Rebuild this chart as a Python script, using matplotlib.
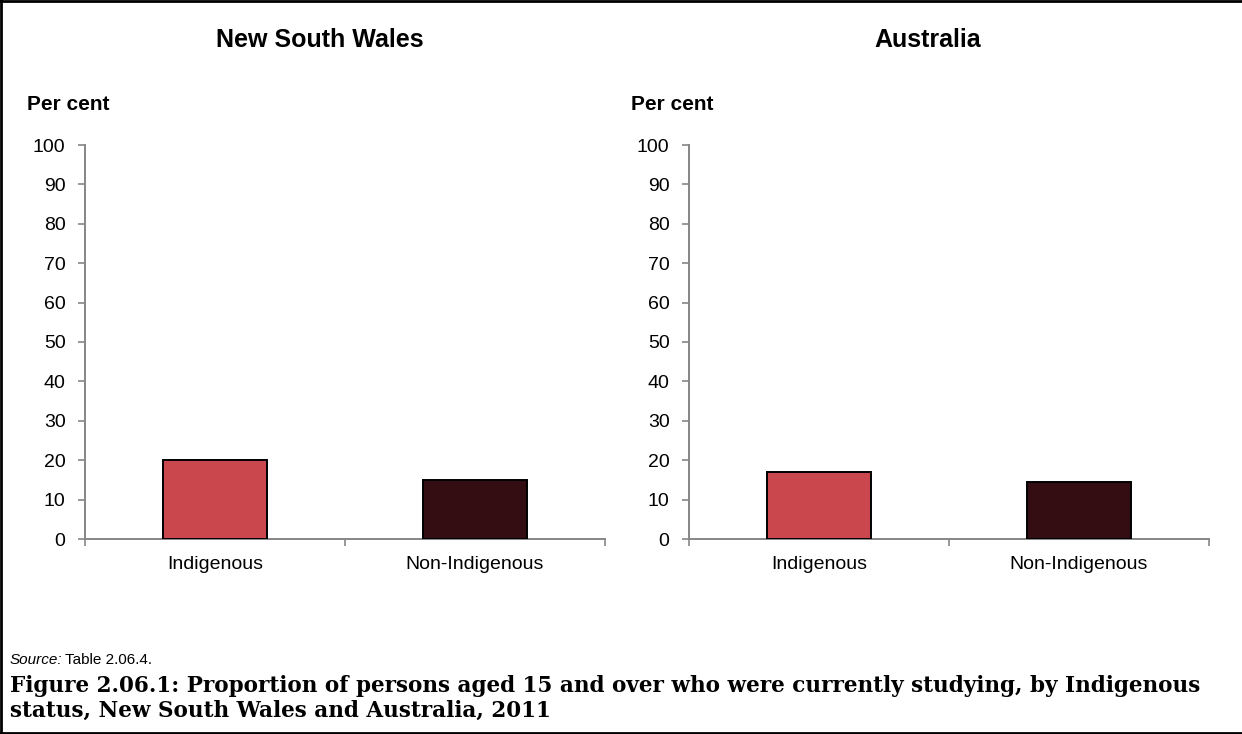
import matplotlib
matplotlib.use("Agg")
import matplotlib.pyplot as plt
from matplotlib.lines import Line2D

categories = ["Indigenous", "Non-Indigenous"]
nsw_values = [20.1, 15.0]
aus_values = [17.0, 14.5]
panel_titles = ["New South Wales", "Australia"]
y_ticks = [0, 10, 20, 30, 40, 50, 60, 70, 80, 90, 100]
caption_lines = [
    "Figure 2.06.1: Proportion of persons aged 15 and over who were currently studying, by Indigenous",
    "status, New South Wales and Australia, 2011",
]

bar_colors = ["#C9474D", "#330D12"]
axis_grey = "#868686"

W, H = 1242, 734

plt.rcParams['font.family'] = ['Liberation Sans', 'DejaVu Sans']

fig = plt.figure(figsize=(W / 100, H / 100), dpi=100)

panels = [
    (fig.add_axes([85 / W, 1 - 539 / H, 520 / W, 394 / H]), nsw_values, panel_titles[0], 320),
    (fig.add_axes([689 / W, 1 - 539 / H, 520 / W, 394 / H]), aus_values, panel_titles[1], 928),
]

for ax, values, title, title_x in panels:
    x = range(len(categories))
    ax.bar(x, values, width=0.4, color=bar_colors, edgecolor="black", linewidth=1.4, zorder=3)
    ax.set_xlim(-0.5, len(categories) - 0.5)
    ax.set_ylim(0, 100)
    ax.set_yticks(y_ticks)
    ax.set_xticks(list(x))
    ax.set_xticklabels(categories)
    ax.set_xticks([-0.5, 0.5, 1.5], minor=True)
    ax.tick_params(axis="x", which="major", length=0, pad=12, labelsize=14)
    ax.tick_params(axis="x", which="minor", length=5, color=axis_grey, width=1.2, direction="out")
    ax.tick_params(axis="y", length=5, color=axis_grey, width=1.2, pad=9, labelsize=14)
    for side in ["top", "right"]:
        ax.spines[side].set_visible(False)
    for side in ["left", "bottom"]:
        ax.spines[side].set_color(axis_grey)
        ax.spines[side].set_linewidth(1.4)

    # panel title and y-label above the axes
    bb = ax.get_position()
    fig.text(title_x / W, 1 - 40 / H, title, ha="center", va="center",
             fontsize=18, fontweight="bold")
    fig.text(bb.x0 - 58 / W, 1 - 104 / H, "Per cent", ha="left", va="center",
             fontsize=15, fontweight="bold")

fig.text(10 / W, 1 - 660 / H, "Source:", ha="left", va="center", fontsize=11, style="italic")
fig.text(65 / W, 1 - 660 / H, "Table 2.06.4.", ha="left", va="center", fontsize=11)

for i, line in enumerate(caption_lines):
    fig.text(10 / W, 1 - (692 + 25 * i) / H, line, ha="left", va="baseline", fontsize=15.5,
             fontweight="bold", family=["DejaVu Serif"])

# frame around the figure (left, top, bottom)
for xs, ys in [([0.001, 0.001], [0, 1]), ([0, 1], [0.999, 0.999]), ([0, 1], [0.001, 0.001])]:
    fig.add_artist(Line2D(xs, ys, transform=fig.transFigure, color="black", linewidth=2))

fig.savefig("out.png", dpi=100)
